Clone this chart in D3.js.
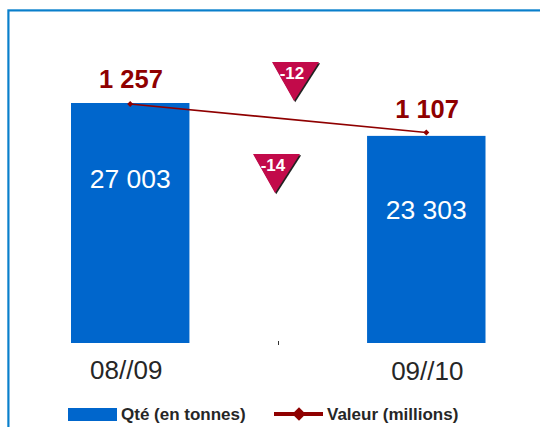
<!DOCTYPE html>
<html><head><meta charset="utf-8">
<script src="https://cdn.jsdelivr.net/npm/d3@7"></script>
<style>html,body{margin:0;padding:0;background:#fff}svg{display:block}text{font-family:"Liberation Sans",Arial,sans-serif}</style>
</head><body><div id="c"></div>
<script>
const categories = ["08//09", "09//10"];
const quantites = [27003, 23303];
const valeurs = [1257, 1107];
const quantiteLabels = ["27 003", "23 303"];
const valeurLabels = ["1 257", "1 107"];
const variations = ["-12", "-14"];
const legendLabels = ["Qté (en tonnes)", "Valeur (millions)"];

const W = 540, H = 427;
const svg = d3.select("#c").append("svg").attr("width", W).attr("height", H);

// frame
const frame = svg.append("g");
frame.append("path").attr("d", `M7.5 ${H}V9.5H${W}`).attr("fill", "none").attr("stroke", "#9fd0ec").attr("stroke-width", 1);
frame.append("path").attr("d", `M8.5 ${H}V10.5H${W}`).attr("fill", "none").attr("stroke", "#0a7fcb").attr("stroke-width", 2);

const x = d3.scaleBand().domain(categories).range([71, 485.5]).paddingInner(0.6).paddingOuter(0);
const yQ = d3.scaleLinear().domain([0, 27003]).range([343, 103]);
const yV = d3.scaleLinear().domain([0, 1257]).range([343, 104]);
const cx = c => x(c) + x.bandwidth() / 2;

// bars
svg.selectAll("rect.bar").data(categories).join("rect").attr("class", "bar")
  .attr("x", d => x(d)).attr("width", x.bandwidth())
  .attr("y", (d, i) => yQ(quantites[i])).attr("height", (d, i) => 343 - yQ(quantites[i]))
  .attr("fill", "#0066cc");

// centre tick
svg.append("line").attr("x1", 278.5).attr("x2", 278.5).attr("y1", 341).attr("y2", 345).attr("stroke", "#333").attr("stroke-width", 1);

// line
const line = d3.line().x((d, i) => cx(categories[i])).y(d => yV(d));
svg.append("path").attr("d", line(valeurs)).attr("fill", "none").attr("stroke", "#8f0000").attr("stroke-width", 1.6);
const diamond = d3.symbol().type(d3.symbolDiamond2 || d3.symbolDiamond);
svg.selectAll("path.pt").data(valeurs).join("path").attr("class", "pt")
  .attr("transform", (d, i) => `translate(${cx(categories[i])},${yV(d)})`)
  .attr("d", d3.symbol().type(d3.symbolSquare).size(18)()).attr("fill", "#8f0000")
  .attr("transform", (d, i) => `translate(${cx(categories[i])},${yV(d)}) rotate(45)`);

// value labels
svg.selectAll("text.val").data(valeurLabels).join("text").attr("class", "val")
  .attr("x", (d, i) => cx(categories[i]) + 0.8).attr("y", (d, i) => yV(valeurs[i]) - (i ? 15 : 16))
  .attr("text-anchor", "middle").attr("font-size", 25.5).attr("font-weight", "bold").attr("fill", "#8f0000").text(d => d);

svg.selectAll("text.q").data(quantiteLabels).join("text").attr("class", "q")
  .attr("x", (d, i) => cx(categories[i])).attr("y", (d, i) => i ? 219 : 188)
  .attr("text-anchor", "middle").attr("font-size", 26.5).attr("fill", "#fff").text(d => d);

svg.selectAll("text.cat").data(categories).join("text").attr("class", "cat")
  .attr("x", d => cx(d) - 4 + (d === categories[1] ? 5 : 0)).attr("y", (d, i) => i ? 380 : 379)
  .attr("text-anchor", "middle").attr("font-size", 26).attr("fill", "#262626").text(d => d);

// variation badges
const badgePos = [[272, 62], [253, 154]];
variations.forEach((v, i) => {
  const [bx, by] = badgePos[i];
  const g = svg.append("g").attr("transform", `translate(${bx},${by})`);
  const tri = d3.path(); tri.moveTo(0, 0); tri.lineTo(47, 0); tri.lineTo(22, 39); tri.closePath();
  g.append("path").attr("d", tri.toString()).attr("fill", "#222").attr("transform", "translate(1.2,1.2)");
  g.append("path").attr("d", tri.toString()).attr("fill", "#c20a4a");
  g.append("text").attr("x", 20).attr("y", 16.5).attr("text-anchor", "middle")
    .attr("font-size", 17).attr("font-weight", "bold").attr("fill", "#fff").text(v);
});

// legend
svg.append("rect").attr("x", 68).attr("y", 408).attr("width", 49).attr("height", 13).attr("fill", "#0066cc");
svg.append("text").attr("x", 121).attr("y", 420).attr("font-size", 17).attr("font-weight", "bold").attr("fill", "#262626").text(legendLabels[0]);
svg.append("line").attr("x1", 274).attr("x2", 323).attr("y1", 414).attr("y2", 414).attr("stroke", "#8f0000").attr("stroke-width", 4);
svg.append("path").attr("transform", "translate(299,414) rotate(45)").attr("d", d3.symbol().type(d3.symbolSquare).size(90)()).attr("fill", "#8f0000");
svg.append("text").attr("x", 327).attr("y", 420).attr("font-size", 17).attr("font-weight", "bold").attr("fill", "#262626").text(legendLabels[1]);
</script></body></html>
